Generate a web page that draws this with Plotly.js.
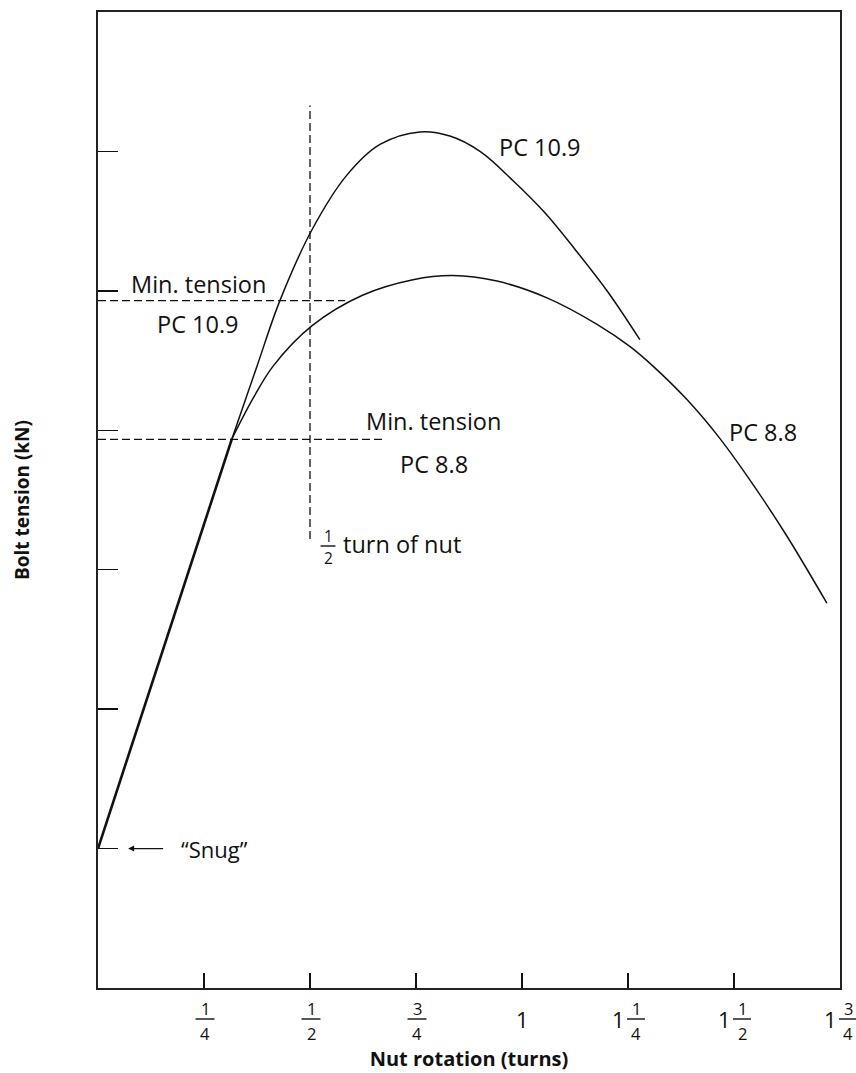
<!DOCTYPE html>
<html><head><meta charset="utf-8">
<script src="https://cdn.plot.ly/plotly-3.0.1.min.js"></script>
<style>html,body{margin:0;padding:0;background:#fff;}#chart{width:856px;height:1073px;}</style>
</head><body><div id="chart"></div>
<script>
// ---- data ----
const snugX = [0, 0.316];
const snugY = [1.0, 3.94];

const pc109X = [0.316, 0.375, 0.429, 0.505, 0.587, 0.665, 0.759, 0.830, 0.901, 0.979, 1.054, 1.127, 1.203, 1.278];
const pc109Y = [3.94, 4.46, 4.93, 5.44, 5.83, 6.05, 6.14, 6.11, 6.00, 5.79, 5.56, 5.29, 4.99, 4.65];

const pc88X = [0.316, 0.366, 0.413, 0.505, 0.625, 0.743, 0.837, 0.941, 1.059, 1.177, 1.255, 1.309, 1.389, 1.467, 1.545, 1.625, 1.719];
const pc88Y = [3.94, 4.23, 4.46, 4.75, 4.97, 5.08, 5.11, 5.07, 4.95, 4.76, 4.60, 4.46, 4.22, 3.94, 3.61, 3.24, 2.76];

const halfTurnX = [0.5, 0.5];
const halfTurnY = [3.22, 6.33];
const minTension109X = [0, 0.583];
const minTension109Y = [4.93, 4.93];
const minTension88X = [0, 0.677];
const minTension88Y = [3.935, 3.935];

const xRange = [0, 1.75];
const yRange = [0, 7];
const xTickVals = [0.25, 0.5, 0.75, 1, 1.25, 1.5, 1.75];
const xTickWhole = ["", "", "", "1", "1", "1", "1"];
const xTickNum = ["1", "1", "3", "", "1", "1", "3"];
const xTickDen = ["4", "2", "4", "", "4", "2", "4"];
const yTickVals = [1, 2, 3, 4, 5, 6];

const FONT = "Open Sans, Noto Sans, sans-serif";
const black = "#111";
const LBL = 23.5;

const traces = [
  {x: snugX, y: snugY, mode: "lines", line: {color: black, width: 2.6}, hoverinfo: "skip"},
  {x: pc109X, y: pc109Y, mode: "lines", line: {color: black, width: 1.5, shape: "spline", smoothing: 1}, hoverinfo: "skip"},
  {x: pc88X, y: pc88Y, mode: "lines", line: {color: black, width: 1.5, shape: "spline", smoothing: 1}, hoverinfo: "skip"},
  {x: halfTurnX, y: halfTurnY, mode: "lines", line: {color: black, width: 1.3, dash: "8px,4px"}, hoverinfo: "skip"},
  {x: minTension109X, y: minTension109Y, mode: "lines", line: {color: black, width: 1.3, dash: "8px,4px"}, hoverinfo: "skip"},
  {x: minTension88X, y: minTension88Y, mode: "lines", line: {color: black, width: 1.3, dash: "8px,4px"}, hoverinfo: "skip"}
];

const annotations = [];
const shapes = [];
function txt(xref, x, yref, y, dx, dy, t, size, anchor) {
  annotations.push({xref: xref, yref: yref, x: x, y: y, xshift: dx, yshift: dy, text: t, showarrow: false,
    xanchor: anchor || "center", yanchor: "middle", font: {family: FONT, size: size, color: black}});
}
function addFraction(xref, x, yref, y, num, den, dx, barDy, numDy, denDy, size, barW) {
  txt(xref, x, yref, y, dx, numDy, num, size);
  txt(xref, x, yref, y, dx, denDy, den, size);
  shapes.push({type: "line", xref: xref, yref: yref, xsizemode: "pixel", xanchor: x, x0: dx - barW/2, x1: dx + barW/2,
    ysizemode: "pixel", yanchor: y, y0: barDy, y1: barDy, line: {color: black, width: 1.4}});
}

// x tick labels (stacked fractions), placed at the tick values in paper units
xTickVals.forEach((v, i) => {
  const px = (v - xRange[0]) / (xRange[1] - xRange[0]);
  const whole = xTickWhole[i];
  if (xTickNum[i] === "") {
    txt("paper", px, "paper", 0, 0, -31, whole, 22);
  } else if (whole !== "") {
    txt("paper", px, "paper", 0, -10, -31, whole, 22);
    addFraction("paper", px, "paper", 0, xTickNum[i], xTickDen[i], 8, -31, -20, -45, 16.5, 18);
  } else {
    addFraction("paper", px, "paper", 0, xTickNum[i], xTickDen[i], 1, -31, -20, -45, 16.5, 19);
  }
});

// curve and guide labels
txt("x", 1.042, "y", 6.03, 0, 0, "PC 10.9", LBL);
txt("x", 0.238, "y", 5.05, 0, 0, "Min. tension", LBL);
txt("x", 0.236, "y", 4.76, 0, 0, "PC 10.9", LBL);
txt("x", 0.792, "y", 4.07, 0, 0, "Min. tension", LBL);
txt("x", 0.792, "y", 3.76, 0, 0, "PC 8.8", LBL);
txt("x", 1.568, "y", 3.99, 0, 0, "PC 8.8", LBL);
// ½ turn of nut
addFraction("x", 0.5, "y", 3.17, "1", "2", 18, 0, 10, -12, 15.5, 15);
txt("x", 0.5, "y", 3.17, 31, 2, "turn of nut", LBL, "left");
// Snug arrow
annotations.push({x: 0.071, y: 1.0, text: "\u201CSnug\u201D", showarrow: true, ax: 86, ay: 0,
  arrowhead: 2, arrowsize: 1, arrowwidth: 1.2, arrowcolor: black, startstandoff: 16,
  font: {family: FONT, size: 22, color: black}});

const layout = {
  width: 856, height: 1073,
  margin: {l: 98, r: 16, t: 12, b: 85},
  paper_bgcolor: "#fff", plot_bgcolor: "#fff",
  showlegend: false,
  font: {family: FONT, color: black},
  xaxis: {range: xRange, tickvals: xTickVals, showticklabels: false, ticks: "inside", ticklen: 15, tickwidth: 1.5,
    tickcolor: black, showgrid: false, zeroline: false, showline: true, linecolor: "#222", linewidth: 1.6, mirror: true,
    title: {text: "<b>Nut rotation (turns)</b>", font: {family: FONT, size: 20, color: black}, standoff: 63}},
  yaxis: {range: yRange, tickvals: yTickVals, showticklabels: false, ticks: "inside", ticklen: 20, tickwidth: 1.5,
    tickcolor: black, showgrid: false, zeroline: false, showline: true, linecolor: "#222", linewidth: 1.6, mirror: true,
    title: {text: "<b>Bolt tension (kN)</b>", font: {family: FONT, size: 19, color: black}, standoff: 62}},
  annotations: annotations,
  shapes: shapes
};
Plotly.newPlot("chart", traces, layout, {staticPlot: true});
</script></body></html>
